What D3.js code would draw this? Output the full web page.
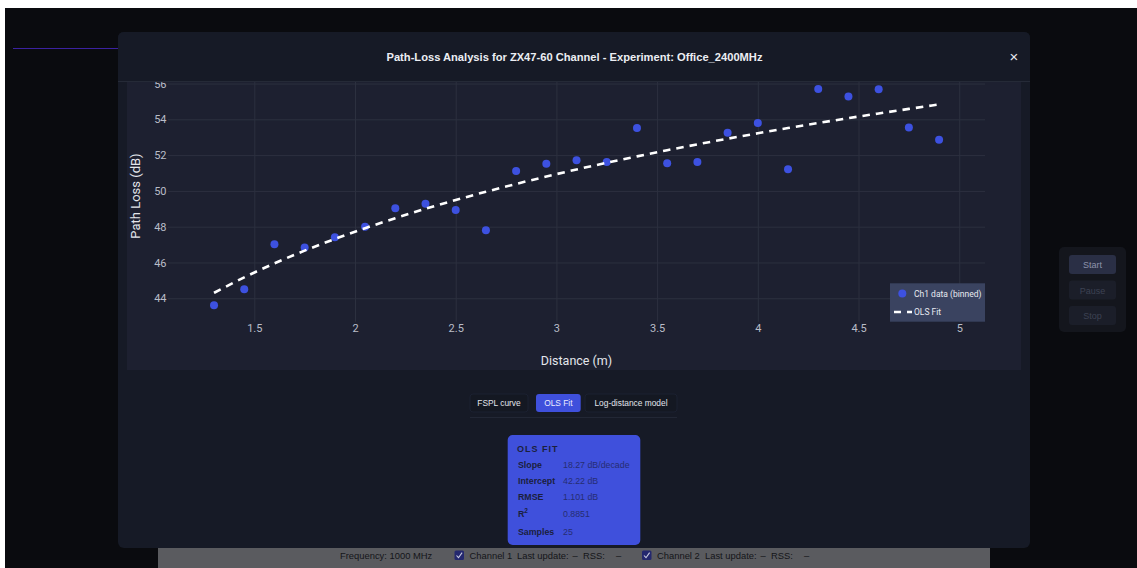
<!DOCTYPE html>
<html>
<head>
<meta charset="utf-8">
<script src="https://cdn.jsdelivr.net/npm/d3@7"></script>
<style>
  html, body { margin: 0; padding: 0; background: #ffffff; overflow: hidden; }
  svg { display: block; }
</style>
</head>
<body>
<svg id="view" width="1137" height="568"></svg>
<script>
// ---- data: binned path-loss samples for channel 1 ----
const distances = [1.30, 1.45, 1.60, 1.75, 1.90, 2.05, 2.20, 2.35, 2.50, 2.65, 2.80, 2.95, 3.10,
                   3.25, 3.40, 3.55, 3.70, 3.85, 4.00, 4.15, 4.30, 4.45, 4.60, 4.75, 4.90];
const pathLoss  = [43.61, 44.50, 47.02, 46.83, 47.41, 48.00, 49.03, 49.28, 48.93, 47.80, 51.11, 51.52, 51.71,
                   51.61, 53.51, 51.54, 51.61, 53.25, 53.79, 51.21, 55.69, 55.28, 55.68, 53.55, 52.86];

// OLS fit of PL = intercept + slope * log10(d)
const fitSlope = 18.27;
const fitIntercept = 42.22;

const xTickValues = [1.5, 2, 2.5, 3, 3.5, 4, 4.5, 5];
const xTickLabels = ["1.5", "2", "2.5", "3", "3.5", "4", "4.5", "5"];
const yTickValues = [44, 46, 48, 50, 52, 54, 56];
const yTickLabels = ["44", "46", "48", "50", "52", "54", "56"];

const legendLabels = ["Ch1 data (binned)", "OLS Fit"];
const tabLabels = ["FSPL curve", "OLS Fit", "Log-distance model"];
const statTitle = "OLS FIT";
const statLabels = ["Slope", "Intercept", "RMSE", "R", "Samples"];
const statValues = ["18.27 dB/decade", "42.22 dB", "1.101 dB", "0.8851", "25"];

const titleText = "Path-Loss Analysis for ZX47-60 Channel - Experiment: Office_2400MHz";

// ---- palette ----
const C = {
  page: "#0a0b0f",
  modal: "#161a26",
  panel: "#1d2030",
  grid: "#2c303f",
  tick: "#b9bdc8",
  axisTitle: "#e4e6ec",
  point: "#3d51e0",
  fit: "#ffffff",
  legendBg: "#3a4360",
  accent: "#3f50dc",
  statInk: "#1b1f3c",
  statVal: "#262d72"
};

const svg = d3.select("#view");
const font = "Roboto, 'Liberation Sans', Arial, sans-serif";
const uiFont = "'Liberation Sans', Arial, sans-serif";

// page backdrop
svg.append("rect").attr("x", 5).attr("y", 8).attr("width", 1132).attr("height", 560).attr("fill", C.page);
svg.append("line").attr("x1", 13).attr("x2", 300).attr("y1", 48.5).attr("y2", 48.5)
  .attr("stroke", "#3b22a0").attr("stroke-width", 1.2);

// side control panel
const side = svg.append("g");
side.append("rect").attr("x", 1059).attr("y", 247).attr("width", 67).attr("height", 85).attr("rx", 5).attr("fill", "#14161d");
[["Start", 255, "#2a2f45", "#8d93ab"], ["Pause", 280.5, "#1b1e29", "#3d4253"], ["Stop", 306, "#1b1e29", "#3d4253"]]
  .forEach(([t, yy, bg, ink]) => {
    side.append("rect").attr("x", 1069).attr("y", yy).attr("width", 47).attr("height", 19).attr("rx", 3).attr("fill", bg);
    side.append("text").attr("x", 1092.5).attr("y", yy + 13).attr("text-anchor", "middle")
      .attr("font-family", uiFont).attr("font-size", 9).attr("fill", ink).text(t);
  });

// status bar under the dialog
const bar = svg.append("g");
bar.append("rect").attr("x", 158).attr("y", 540).attr("width", 832).attr("height", 40).attr("rx", 6).attr("fill", "#5a5b5f");
const barText = (x, t) => bar.append("text").attr("x", x).attr("y", 559).attr("font-family", uiFont)
  .attr("font-size", 9.4).attr("fill", "#141519").text(t);
const barBox = (x) => {
  bar.append("rect").attr("x", x).attr("y", 550.5).attr("width", 9.5).attr("height", 9.5).attr("rx", 1.5).attr("fill", "#24286e");
  bar.append("path").attr("d", `M${x + 2},${555.5} L${x + 4},${557.7} L${x + 7.6},${552.6}`)
    .attr("fill", "none").attr("stroke", "#c9cbe0").attr("stroke-width", 1.1);
};
barText(340, "Frequency: 1000 MHz");
barBox(454.5); barText(469.5, "Channel 1"); barText(517, "Last update:"); barText(572.5, "–"); barText(583, "RSS:"); barText(616, "–");
barBox(642); barText(657, "Channel 2"); barText(705, "Last update:"); barText(760.5, "–"); barText(771, "RSS:"); barText(804, "–");

// dialog
svg.append("rect").attr("x", 118).attr("y", 32).attr("width", 912).attr("height", 516).attr("rx", 6).attr("fill", C.modal);

// chart panel
svg.append("rect").attr("x", 127).attr("y", 60).attr("width", 894).attr("height", 310).attr("fill", C.panel);

const plot = { left: 168, right: 985, top: 70.3, bottom: 321.7 };
const x = d3.scaleLinear().domain([1.0715, 5.128]).range([plot.left, plot.right]);
const y = d3.scaleLinear().domain([42.69, 56.74]).range([plot.bottom, plot.top]);

const chart = svg.append("g");

// y grid + labels
const yAxis = chart.append("g").attr("transform", `translate(${plot.left},0)`)
  .call(d3.axisLeft(y).tickValues(yTickValues).tickFormat((d, i) => yTickLabels[i])
    .tickSize(-(plot.right - plot.left)).tickPadding(1.5));
yAxis.select(".domain").remove();
yAxis.selectAll(".tick line").attr("stroke", C.grid).attr("stroke-width", 1);
yAxis.selectAll(".tick text").attr("fill", C.tick).attr("font-family", font).attr("font-size", 11);

// x grid + labels
const xAxis = chart.append("g").attr("transform", `translate(0,${plot.bottom})`)
  .call(d3.axisBottom(x).tickValues(xTickValues).tickFormat((d, i) => xTickLabels[i])
    .tickSize(-(plot.bottom - plot.top)).tickPadding(3));
xAxis.select(".domain").remove();
xAxis.selectAll(".tick line").attr("stroke", C.grid).attr("stroke-width", 1);
xAxis.selectAll(".tick text").attr("fill", C.tick).attr("font-family", font).attr("font-size", 11);

// axis titles
chart.append("text").attr("x", (plot.left + plot.right) / 2).attr("y", 364.5).attr("text-anchor", "middle")
  .attr("font-family", font).attr("font-size", 12.5).attr("fill", C.axisTitle).text("Distance (m)");
chart.append("text").attr("transform", `translate(139.5,${(plot.top + plot.bottom) / 2}) rotate(-90)`)
  .attr("text-anchor", "middle").attr("font-family", font).attr("font-size", 13).attr("fill", C.axisTitle)
  .text("Path Loss (dB)");

// measured points
chart.append("g").selectAll("circle").data(distances).join("circle")
  .attr("cx", d => x(d)).attr("cy", (d, i) => y(pathLoss[i])).attr("r", 4).attr("fill", C.point);

// fitted model evaluated at each binned distance
const fitPts = distances.map(d => [d, fitIntercept + fitSlope * Math.log10(d)]);
chart.append("path").datum(fitPts)
  .attr("d", d3.line().x(p => x(p[0])).y(p => y(p[1])).curve(d3.curveMonotoneX))
  .attr("fill", "none").attr("stroke", C.fit).attr("stroke-width", 2.6).attr("stroke-dasharray", "7.5,6");

// legend, anchored to the bottom-right of the plot
const lg = chart.append("g");
lg.append("rect").attr("x", 890).attr("y", 283.3).attr("width", plot.right - 890).attr("height", plot.bottom - 283.3)
  .attr("fill", C.legendBg);
lg.append("circle").attr("cx", 902.3).attr("cy", 293.5).attr("r", 4).attr("fill", C.point);
lg.append("line").attr("x1", 894).attr("x2", 912).attr("y1", 312).attr("y2", 312)
  .attr("stroke", C.fit).attr("stroke-width", 2.6).attr("stroke-dasharray", "7,6");
legendLabels.forEach((t, i) => {
  lg.append("text").attr("x", 914).attr("y", i === 0 ? 296.6 : 315.1).attr("font-family", font)
    .attr("font-size", 8.5).attr("fill", "#e8eaf0").text(t);
});

// dialog header drawn over the scrolled chart
svg.append("path").attr("d", "M118,81.5 V38 Q118,32 124,32 H1024 Q1030,32 1030,38 V81.5 Z").attr("fill", C.modal);
svg.append("line").attr("x1", 118).attr("x2", 1030).attr("y1", 81.5).attr("y2", 81.5).attr("stroke", "#252a37");
svg.append("text").attr("x", 574.5).attr("y", 61.3).attr("text-anchor", "middle").attr("font-family", uiFont)
  .attr("font-weight", "bold").attr("font-size", 11.15).attr("fill", "#eceef3").text(titleText);
svg.append("text").attr("x", 1014).attr("y", 62).attr("text-anchor", "middle").attr("font-family", uiFont)
  .attr("font-size", 15).attr("fill", "#e6e8ee").text("×");

// view tabs
const tabs = svg.append("g");
const tabBoxes = [[470, 58], [536, 44.7], [585, 92]];
tabs.append("line").attr("x1", 470).attr("x2", 677).attr("y1", 417.5).attr("y2", 417.5).attr("stroke", "#222735");
tabLabels.forEach((t, i) => {
  const [bx, bw] = tabBoxes[i];
  const active = i === 1;
  tabs.append("rect").attr("x", bx).attr("y", 394).attr("width", bw).attr("height", 18).attr("rx", 3)
    .attr("fill", active ? C.accent : "#141822").attr("stroke", active ? "none" : "#1b2030");
  tabs.append("text").attr("x", bx + bw / 2).attr("y", 406).attr("text-anchor", "middle").attr("font-family", uiFont)
    .attr("font-size", 8.4).attr("fill", active ? "#e9ebff" : "#e2e5ec").text(t);
});

// fit statistics card
const card = svg.append("g");
card.append("rect").attr("x", 507.7).attr("y", 435).attr("width", 132.6).attr("height", 110).attr("rx", 5).attr("fill", C.accent);
card.append("text").attr("x", 517).attr("y", 452).attr("font-family", uiFont).attr("font-weight", "bold")
  .attr("font-size", 9).attr("letter-spacing", 1.0).attr("fill", C.statInk).text(statTitle);
const rowY = [467.5, 483.5, 499.5, 516.5, 534.5];
statLabels.forEach((t, i) => {
  const lt = card.append("text").attr("x", 518).attr("y", rowY[i]).attr("font-family", uiFont).attr("font-weight", "bold")
    .attr("font-size", 8.8).attr("fill", C.statInk).text(t);
  if (t === "R") lt.append("tspan").attr("dy", -4).attr("font-size", 6.5).text("2");
  card.append("text").attr("x", 563).attr("y", rowY[i]).attr("font-family", uiFont)
    .attr("font-size", 8.8).attr("fill", C.statVal).text(statValues[i]);
});
</script>
</body>
</html>
